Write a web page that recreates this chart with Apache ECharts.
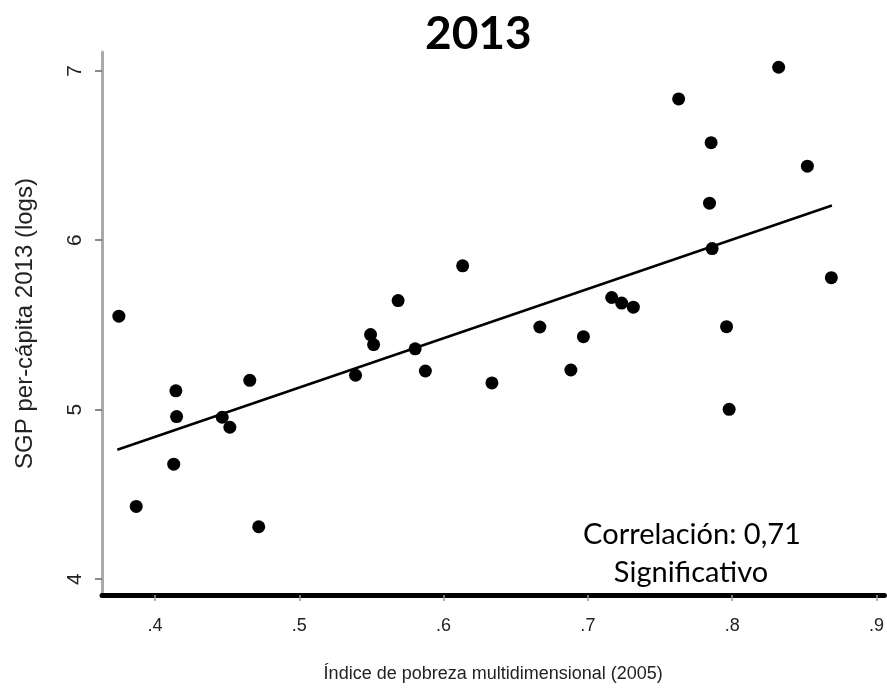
<!DOCTYPE html>
<html><head><meta charset="utf-8">
<script src="https://cdn.jsdelivr.net/npm/echarts@6/dist/echarts.min.js"></script>
<style>html,body{margin:0;padding:0;background:#fff}#c{width:887px;height:688px}</style>
</head><body><div id="c"></div>
<script>
// Data
const pobreza = [0.375,0.387,0.4145,0.415,0.413,0.4466,0.4519,0.4657,0.4719,0.539,0.5494,0.5515,0.5685,0.5803,0.5874,0.6132,0.6335,0.6667,0.6882,0.6969,0.7165,0.7234,0.7315,0.7629,0.7854,0.7843,0.7861,0.7961,0.7979,0.8322,0.8521,0.8687];
const sgp = [5.552,4.429,5.111,4.959,4.678,4.955,4.896,5.173,4.309,5.203,5.443,5.384,5.644,5.359,5.228,5.849,5.158,5.488,5.234,5.431,5.662,5.629,5.605,6.834,6.576,6.219,5.951,5.490,5.002,7.021,6.437,5.779];
const fitX = [0.3739, 0.8691];
const fitY = [4.763, 6.205];
const xTicks = [0.4,0.5,0.6,0.7,0.8,0.9];
const xTickLabels = ['.4','.5','.6','.7','.8','.9'];
const yTicks = [4,5,6,7];
const yTickLabels = ['4','5','6','7'];
const titleText = '2013';
const xName = 'Índice de pobreza multidimensional (2005)';
const yName = 'SGP per-cápita 2013 (logs)';
const note1 = 'Correlación: 0,71';
const note2 = 'Significativo';

const chart = echarts.init(document.getElementById('c'), null, {renderer:'canvas'});
const pts = pobreza.map((x,i)=>[x, sgp[i]]);
const fit = fitX.map((x,i)=>[x, fitY[i]]);
const fam = 'Liberation Sans';
chart.setOption({
  animation:false,
  backgroundColor:'#fff',
  title:{text:titleText, left:420, top:6, textStyle:{fontFamily:'Lato', fontWeight:'bold', fontSize:46, color:'#000'}},
  grid:{left:102, right:1, top:52, bottom:89, containLabel:false},
  xAxis:{type:'value', min:0.3633, max:0.9055,
    name:xName, nameLocation:'middle', nameGap:70, nameTextStyle:{fontFamily:fam, fontSize:18, color:'#222'},
    axisLine:{show:true, onZero:false, lineStyle:{color:'#000', width:5}},
    axisTick:{show:true, customValues:xTicks, length:6, lineStyle:{color:'#999', width:1.5}},
    axisLabel:{customValues:xTicks, margin:22, formatter:v=>xTickLabels[xTicks.findIndex(t=>Math.abs(t-v)<1e-6)], fontFamily:fam, fontSize:18, color:'#222'},
    splitLine:{show:false}},
  yAxis:{type:'value', min:3.906, max:7.111,
    name:yName, nameLocation:'middle', nameGap:65, nameRotate:90, nameTextStyle:{fontFamily:fam, fontSize:24, color:'#222'},
    axisLine:{show:true, onZero:false, lineStyle:{color:'#aaa', width:3}},
    axisTick:{show:true, customValues:yTicks, length:7, lineStyle:{color:'#666', width:1.5}},
    axisLabel:{customValues:yTicks, rotate:90, margin:16, formatter:v=>yTickLabels[yTicks.findIndex(t=>Math.abs(t-v)<1e-6)], fontFamily:fam, fontSize:21, color:'#222'},
    splitLine:{show:false}},
  series:[
    {type:'line', data:fit, showSymbol:false, symbol:'none', lineStyle:{color:'#000', width:2.5}, z:2},
    {type:'scatter', data:pts, symbol:'circle', symbolSize:13, itemStyle:{color:'#000', opacity:1}, z:3}
  ],
  graphic:[
    {type:'text', style:{text:note1, x:692, y:535, textAlign:'center', textVerticalAlign:'middle', fontFamily:'Lato', fontSize:29, fill:'#000'}},
    {type:'text', style:{text:note2, x:691, y:573, textAlign:'center', textVerticalAlign:'middle', fontFamily:'Lato', fontSize:29, fill:'#000'}}
  ]
});
</script></body></html>
